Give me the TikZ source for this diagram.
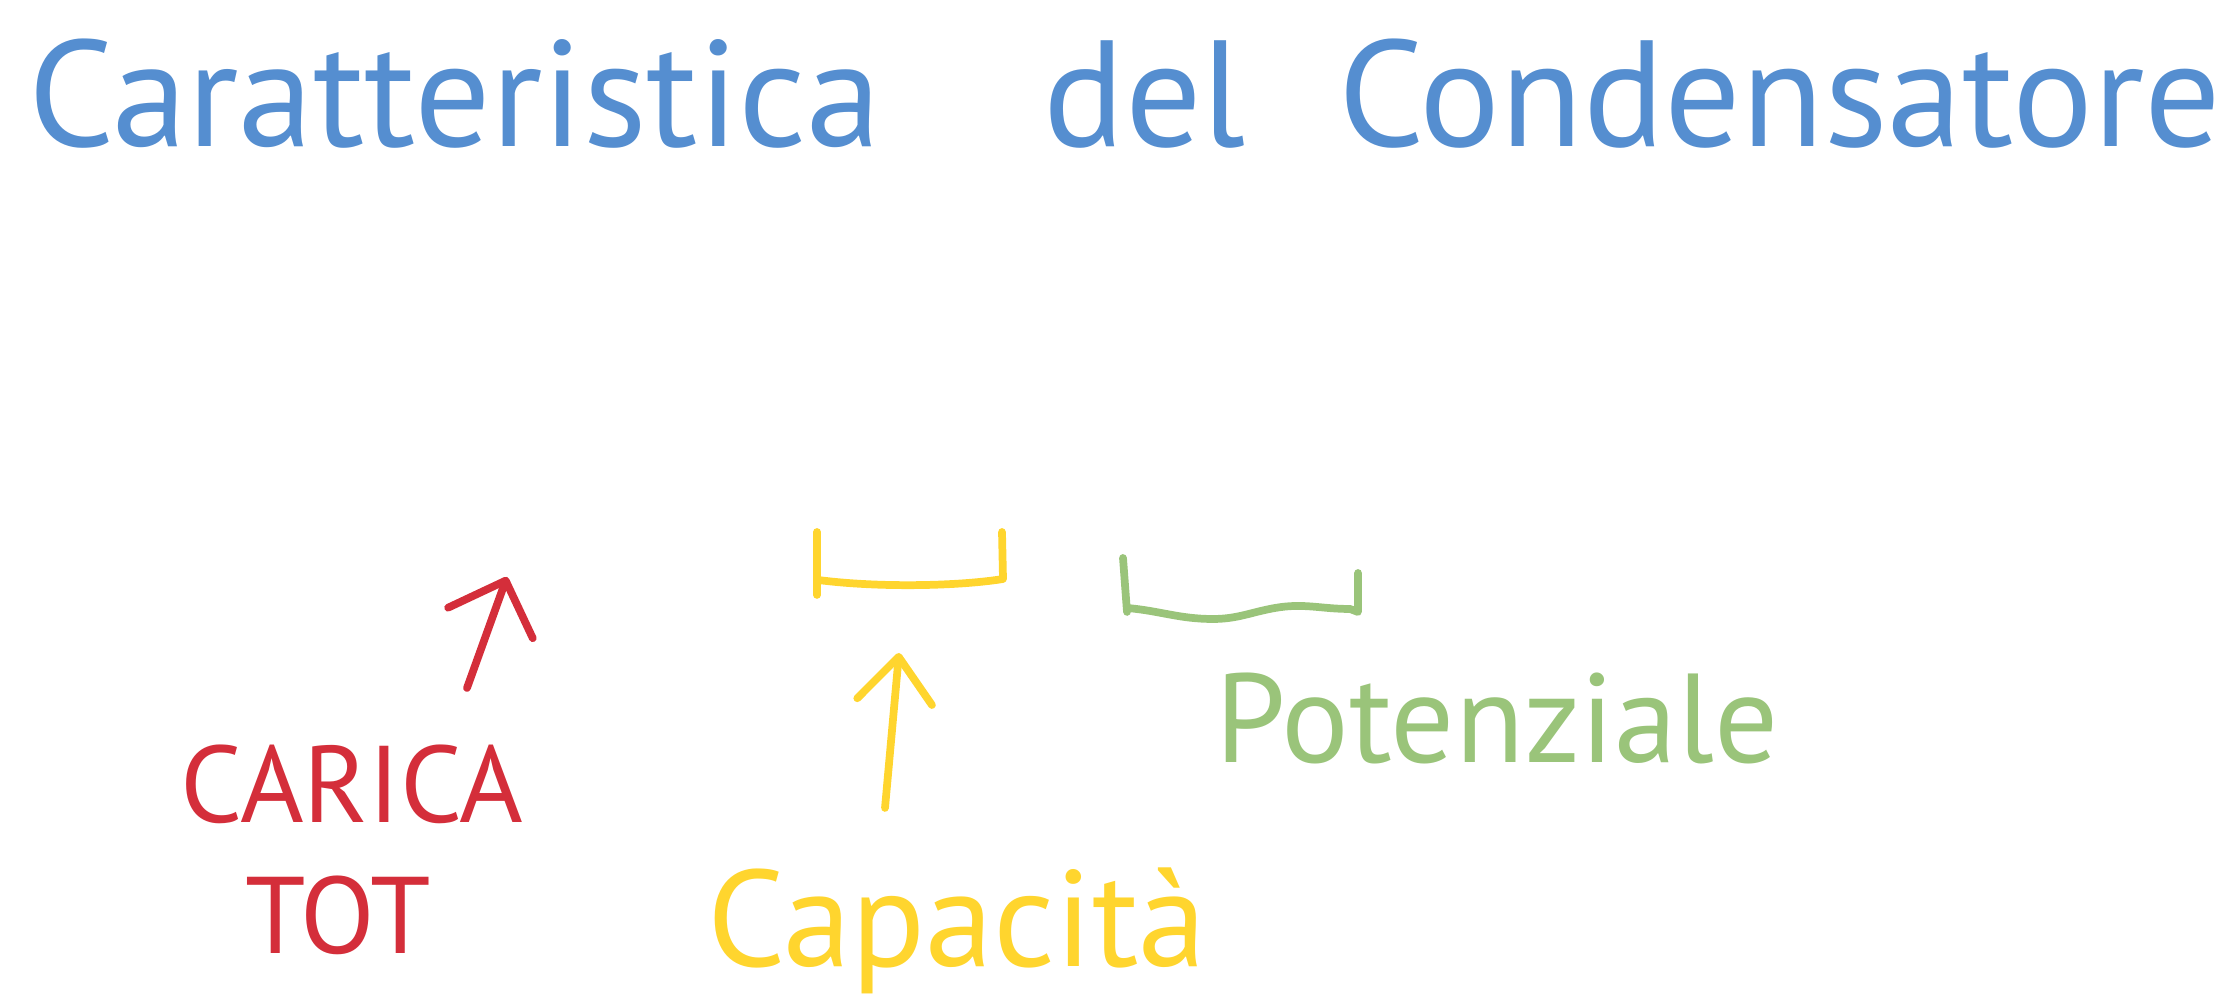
\documentclass[tikz,border=0pt]{standalone}
\usepackage{fontspec}
\setmainfont{PT Sans}
\usetikzlibrary{arrows.meta,positioning}
\definecolor{inkblue}{HTML}{558ED0}
\definecolor{inkred}{HTML}{D42E3A}
\definecolor{inkyellow}{HTML}{FFD52E}
\definecolor{inkgreen}{HTML}{9AC47A}
\tikzset{
  titleword/.style={text=inkblue, inner sep=0pt, font=\fontsize{43}{52}\selectfont},
  redlabel/.style={text=inkred, inner sep=0pt, font=\fontsize{31}{37}\selectfont},
  yellowlabel/.style={text=inkyellow, inner sep=0pt, font=\fontsize{39}{47}\selectfont},
  greenlabel/.style={text=inkgreen, inner sep=0pt, font=\fontsize{36}{43}\selectfont},
  plateyellow/.style={draw=inkyellow, line width=2.2pt, line cap=round, line join=round},
  plategreen/.style={draw=inkgreen, line width=2.2pt, line cap=round, line join=round},
  redarrow/.style={-{Straight Barb[round, length=4.5mm, width=9mm]}, draw=inkred, line width=2.2pt, line cap=round},
  yellowarrow/.style={-{Straight Barb[round, length=4.5mm, width=7.5mm]}, draw=inkyellow, line width=2.2pt, line cap=round}
}
\begin{document}
\begin{tikzpicture}
\useasboundingbox (0,0) rectangle (22.25,10);
% titolo
\node[titleword, anchor=base] (car) at (4.55,8.53) {Caratteristica};
\node[titleword, anchor=base] (del) at (11.45,8.53) {del};
\node[titleword, anchor=base] (cond) at (17.8,8.53) {Condensatore};
% armature
\draw[plateyellow] (8.17,4.68) -- (8.17,4.05);
\draw[plateyellow] (8.18,4.20) .. controls (8.8,4.12) and (9.6,4.14) .. (10.03,4.21) -- (10.02,4.68);
\draw[plategreen] (11.23,4.42) -- (11.27,3.88);
\draw[plategreen] (11.27,3.92) to[out=-5,in=180] (12.13,3.81) to[out=0,in=190] (12.75,3.92)
  to[out=10,in=180] (13.5,3.91) -- (13.58,3.88) -- (13.58,4.27);
% etichette
\node[redlabel, anchor=base] (carica) at (3.52,1.77) {CARICA};
\node[redlabel, below=5mm of carica, xshift=-1.4mm] (tot) {TOT};
\node[yellowlabel, anchor=base] (capacita) at (9.57,0.33) {Capacità};
\node[greenlabel, anchor=base] (potenziale) at (14.97,2.37) {Potenziale};
% frecce
\coordinate (qfoot) at (4.67,3.12);
\coordinate (qhead) at (5.07,4.23);
\draw[redarrow] (qfoot) -- (qhead);
\coordinate (cfoot) at (8.85,1.92);
\coordinate (chead) at (8.99,3.47);
\draw[yellowarrow] (cfoot) -- (chead);
\end{tikzpicture}
\end{document}
